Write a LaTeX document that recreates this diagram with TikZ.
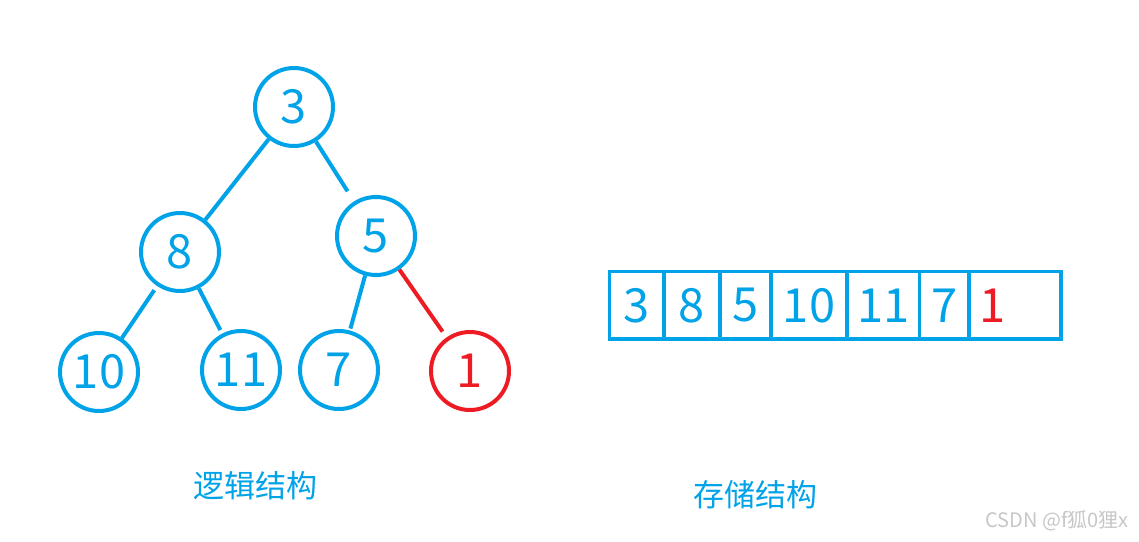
\documentclass[tikz,border=0pt]{standalone}
\usepackage{fontspec}
\newfontfamily\cjk{Noto Sans CJK SC}
\usetikzlibrary{positioning}
\definecolor{heapblue}{RGB}{0,162,232}
\definecolor{heapred}{RGB}{237,28,36}

\begin{document}
\begin{tikzpicture}[x=1pt,y=-1pt,
  knot/.style={circle,draw=heapblue,line width=4pt,minimum size=78pt,inner sep=0pt,
    text=heapblue,font=\cjk\fontsize{47}{47}\selectfont},
  link/.style={draw=heapblue,line width=4pt},
  cell/.style={rectangle,draw=heapblue,line width=3.6pt,minimum height=67.5pt,inner sep=0pt,
    text=heapblue,font=\cjk\fontsize{47}{47}\selectfont},
  caption/.style={text=heapblue,font=\cjk\fontsize{31}{31}\selectfont}]
  \useasboundingbox (0,0) rectangle (1139,541);
  % heap as a tree
  \node[knot] (n3) at (294,107) {3};
  \node[knot] (n8) at (180,252) {8};
  \node[knot] (n5) at (376,236) {5};
  \node[knot] (n10) at (99,372) {10};
  \node[knot] (n11) at (241,370) {11};
  \node[knot] (n7) at (339,370) {7};
  \node[knot,draw=heapred,text=heapred] (n1) at (470,371) {1};
  \draw[link] (n3) -- (n8);
  \draw[link,shorten >=12pt] (n3) -- (n5);
  \draw[link,shorten <=5pt] (n8) -- (n10);
  \draw[link,shorten >=4pt] (n8) -- (n11);
  \draw[link,shorten >=2pt] (n5) -- (n7);
  \draw[link,draw=heapred,shorten >=7pt] (n5) -- (n1);
  % heap as an array
  \node[cell,minimum width=54pt] (c1) at (636.5,305.3) {3};
  \node[cell,minimum width=56.5pt] (c2) at (692,305.3) {8};
  \node[cell,minimum width=51pt] (c3) at (745.5,305.3) {5};
  \node[cell,minimum width=76.5pt] (c4) at (809,305.3) {10};
  \node[cell,minimum width=72pt] (c5) at (883.5,305.3) {11};
  \node[cell,minimum width=50pt] (c6) at (944.5,305.3) {7};
  \node[cell,minimum width=91.5pt] (c7) at (1015,305.3) {};
  \node[cell,draw=none,text=heapred] (v7) at (993,305.3) {1};
  % captions
  \node[caption] (logic) at (255,486) {逻辑结构};
  \node[caption] (store) at (755,495) {存储结构};
  \node[text=black!22,font=\cjk\fontsize{20}{20}\selectfont] (mark) at (1057,521) {CSDN @f狐0狸x};
\end{tikzpicture}
\end{document}
